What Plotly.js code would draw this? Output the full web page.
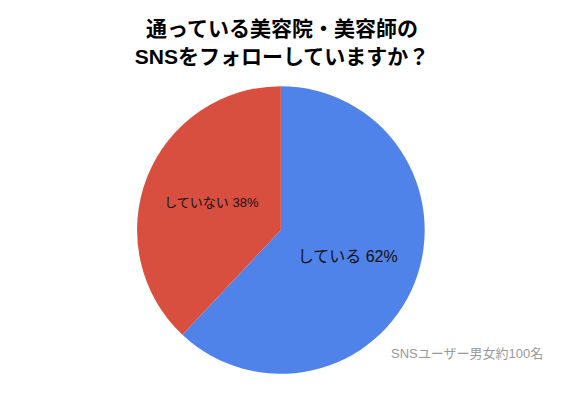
<!DOCTYPE html>
<html><head><meta charset="utf-8">
<script src="https://cdn.plot.ly/plotly-3.0.1.min.js"></script>
<style>html,body{margin:0;padding:0;background:#fff}</style>
</head><body>
<div id="chart" style="width:564px;height:400px"></div>
<script>
const labels = ["している", "していない"];
const values = [62, 38];
const colors = ["#5083e9", "#d94f3f"];
const titleText = "通っている美容院・美容師の<br>SNSをフォローしていますか？";
const noteText = "SNSユーザー男女約100名";
const FONT = "Liberation Sans, Noto Sans CJK JP, sans-serif";

const data = [{
  type: "pie",
  labels: labels,
  values: values,
  sort: false,
  direction: "clockwise",
  rotation: 0,
  marker: {colors: colors, line: {width: 0}},
  texttemplate: "%{label} %{percent}",
  textposition: "inside",
  insidetextorientation: "horizontal",
  textfont: {size: [16, 13], color: "#111", family: FONT},
  hoverinfo: "none",
  domain: {x: [0.243, 0.753], y: [0.065, 0.785]},
  showlegend: false
}];

const layout = {
  width: 564, height: 400,
  margin: {l: 0, r: 0, t: 0, b: 0},
  paper_bgcolor: "#fff",
  font: {family: FONT},
  title: {
    text: "<b>" + titleText + "</b>",
    font: {size: 21, color: "#000", family: FONT},
    x: 0.5, xanchor: "center", y: 0.909, yanchor: "middle"
  },
  annotations: [{
    text: noteText, xref: "paper", yref: "paper",
    x: 0.967, y: 0.117, xanchor: "right", yanchor: "middle",
    showarrow: false, font: {size: 13, color: "#999", family: FONT}
  }]
};
Plotly.newPlot("chart", data, layout, {displayModeBar: false});
</script>
</body></html>
